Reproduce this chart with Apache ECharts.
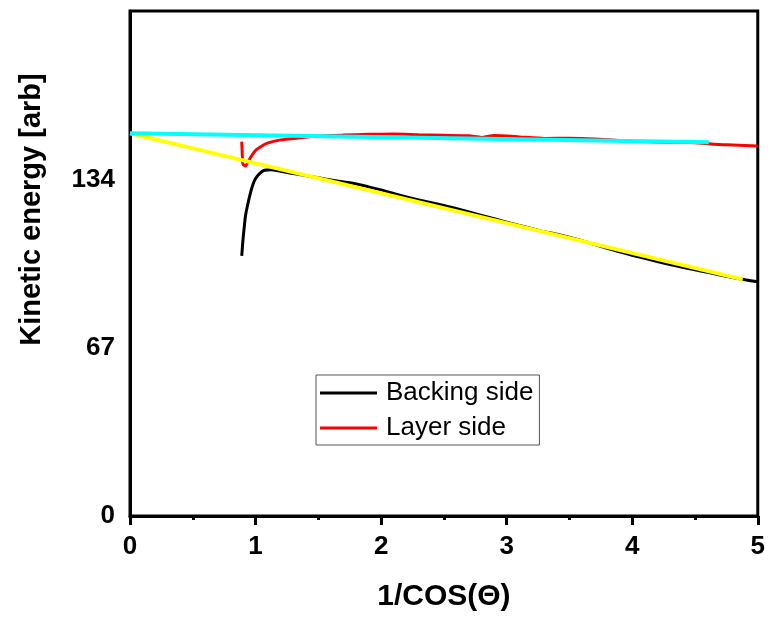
<!DOCTYPE html>
<html><head><meta charset="utf-8">
<script src="https://cdn.jsdelivr.net/npm/echarts@6/dist/echarts.min.js"></script>
<style>html,body{margin:0;padding:0;background:#fff}#c{width:768px;height:617px}</style>
</head><body><div id="c"></div>
<script>
var backingX = [0.89,0.90,0.91,0.92,0.94,0.96,0.98,1.00,1.03,1.07,1.12,1.2,1.3,1.4,1.5,1.6,1.75,1.9,2.0,2.14,2.3,2.5,2.7,2.9,3.1,3.27,3.4,3.6,3.8,4.0,4.2,4.4,4.6,4.8,4.9,5.0];
var backingY = [103.5,110,115,119.5,124.5,128.7,132,134.3,136.2,137.6,137.8,137.2,136.3,135.5,134.6,133.7,132.6,131,129.8,127.8,125.8,123.6,121,118.3,115.6,113.5,112.2,109.6,106.5,103.8,101.3,99,97,94.9,94,93.2];
var layerX = [0.89,0.895,0.90,0.92,0.94,0.97,1.0,1.05,1.1,1.2,1.35,1.5,1.7,1.9,2.1,2.3,2.5,2.7,2.8,2.9,3.1,3.3,3.5,3.7,3.9,4.1,4.3,4.5,4.65,4.8,5.0];
var layerY = [149,143,140,139.3,141,143.5,145.5,147.3,148.5,149.7,150.5,151.2,151.6,151.9,152,151.7,151.5,151.3,150.7,151.4,150.9,150.3,150.4,150.1,149.4,149.0,148.8,148.6,148,147.7,147.3];
var fitLayerX = [0, 4.61];
var fitLayerY = [152.3, 148.8];
var fitBackingX = [0, 4.88];
var fitBackingY = [152.3, 94.2];
var xTicks = [0,1,2,3,4,5];
var yTicks = [0,67,134];

function pairs(xs, ys){ return xs.map(function(x,i){return [x, ys[i]];}); }

var chart = echarts.init(document.getElementById('c'));
var font = 'Liberation Sans, Arial, sans-serif';
chart.setOption({
  animation:false,
  grid:{left:130,right:8,top:11,bottom:97,show:true,borderColor:'#000',borderWidth:3},
  legend:{
    data:['Backing side','Layer side'],
    orient:'vertical', left:316, top:375,
    icon:'rect', itemWidth:57, itemHeight:3, itemGap:7,
    padding:[4,6,3,4],
    borderColor:'#555', borderWidth:1, backgroundColor:'#fff',
    textStyle:{fontFamily:font, fontSize:26, lineHeight:28, color:'#000', padding:[0,0,0,4]}
  },
  xAxis:{
    type:'value', min:0, max:5, interval:1,
    name:'1/COS(Θ)', nameLocation:'middle', nameGap:66,
    nameTextStyle:{fontFamily:font, fontSize:30, fontWeight:'bold', color:'#000'},
    axisLine:{lineStyle:{color:'#000',width:3}},
    axisTick:{show:true, length:9, lineStyle:{color:'#000',width:3}},
    minorTick:{show:true, splitNumber:2, length:4, lineStyle:{color:'#000',width:3}},
    splitLine:{show:false},
    axisLabel:{fontFamily:font, fontSize:26, fontWeight:'bold', color:'#000', margin:18,
      formatter:function(v){return xTicks.indexOf(v)>=0 ? String(v) : '';}}
  },
  yAxis:{
    type:'value', min:0, max:201, interval:67,
    name:'Kinetic energy [arb]', nameLocation:'middle', nameGap:84,
    nameTextStyle:{fontFamily:font, fontSize:29, fontWeight:'bold', color:'#000', padding:[0,0,0,108]},
    axisLine:{show:true, lineStyle:{color:'#000',width:3}},
    axisTick:{show:false},
    splitLine:{show:false},
    axisLabel:{fontFamily:font, fontSize:26, fontWeight:'bold', color:'#000', margin:15,
      formatter:function(v){return yTicks.indexOf(v)>=0 ? String(v) : '';}}
  },
  series:[
    {name:'Backing side', type:'line', data:pairs(backingX,backingY), symbol:'none', smooth:0.3,
     color:'#000', lineStyle:{color:'#000',width:3}, itemStyle:{color:'#000'}, z:2},
    {name:'Layer side', type:'line', data:pairs(layerX,layerY), symbol:'none', smooth:0.2,
     color:'#ff0000', lineStyle:{color:'#ff0000',width:3}, itemStyle:{color:'#ff0000'}, z:2},
    {name:'fitB', type:'line', data:pairs(fitBackingX,fitBackingY), symbol:'none',
     lineStyle:{color:'#ffff00',width:4}, z:3},
    {name:'fitL', type:'line', data:pairs(fitLayerX,fitLayerY), symbol:'none',
     lineStyle:{color:'#00ffff',width:4}, z:3}
  ]
});
</script></body></html>
